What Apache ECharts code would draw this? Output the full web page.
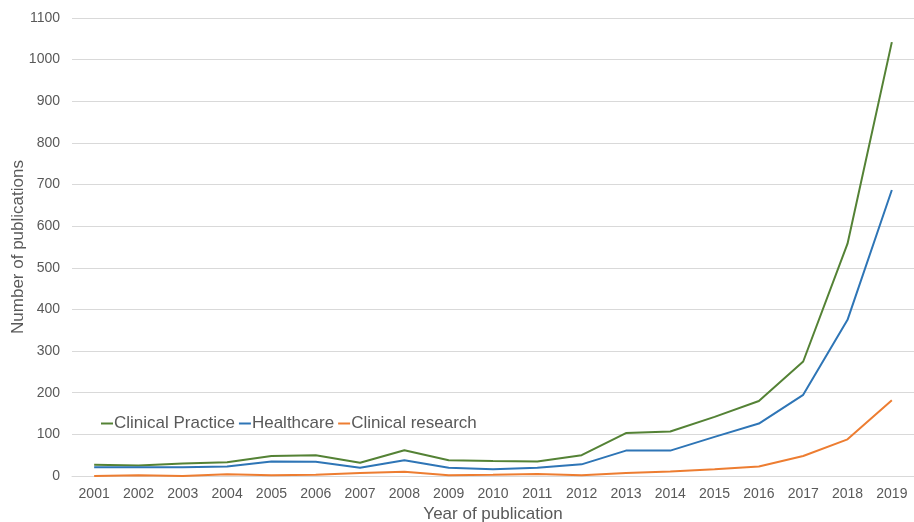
<!DOCTYPE html>
<html><head><meta charset="utf-8">
<script src="https://cdn.jsdelivr.net/npm/echarts@6/dist/echarts.min.js"></script>
<style>html,body{margin:0;padding:0;background:#fff}#c{width:914px;height:522px}</style>
</head><body><div id="c"></div>
<script>
const years = ['2001','2002','2003','2004','2005','2006','2007','2008','2009','2010','2011','2012','2013','2014','2015','2016','2017','2018','2019'];
const clinicalPractice = [27,25,30,33,48,50,32,62,38,36,35,50,103,107,142,180,275,558,1042];
const healthcare = [21,21,21,23,35,34,20,38,20,16,20,28,61,61,94,126,195,375,687];
const clinicalResearch = [0,2,0,4,2,3,7,10,2,3,5,2,7,11,16,23,48,88,182];
const font = 'Liberation Sans, Arial, sans-serif';
const chart = echarts.init(document.getElementById('c'));
chart.setOption({
  animation:false,
  textStyle:{fontFamily:font},
  grid:{left:72,right:0,top:18,bottom:46,outerBoundsMode:'none',containLabel:false},
  legend:{left:96,top:410,itemGap:4,itemWidth:12,itemHeight:2,icon:'rect',
    textStyle:{color:'#595959',fontSize:17,fontFamily:font,padding:[0,0,0,-4]},
    data:['Clinical Practice','Healthcare','Clinical research']},
  xAxis:{type:'category',data:years,boundaryGap:true,
    name:'Year of publication',nameLocation:'middle',nameGap:30,nameMoveOverlap:false,
    nameTextStyle:{color:'#595959',fontSize:17,fontFamily:font},
    axisLine:{lineStyle:{color:'#d9d9d9'}},axisTick:{show:false},
    axisLabel:{color:'#595959',fontSize:14,fontFamily:font,margin:11}},
  yAxis:{type:'value',min:0,max:1100,interval:100,
    name:'Number of publications',nameLocation:'middle',nameGap:45,nameMoveOverlap:false,
    nameTextStyle:{color:'#595959',fontSize:17,fontFamily:font},
    axisLine:{show:false},axisTick:{show:false},
    axisLabel:{color:'#595959',fontSize:14,fontFamily:font,margin:12,formatter:v=>String(v)},
    splitLine:{lineStyle:{color:'#d9d9d9'}}},
  series:[
    {name:'Clinical Practice',type:'line',data:clinicalPractice,symbol:'none',lineStyle:{color:'#548235',width:2},itemStyle:{color:'#548235'}},
    {name:'Healthcare',type:'line',data:healthcare,symbol:'none',lineStyle:{color:'#2e75b6',width:2},itemStyle:{color:'#2e75b6'}},
    {name:'Clinical research',type:'line',data:clinicalResearch,symbol:'none',lineStyle:{color:'#ed7d31',width:2},itemStyle:{color:'#ed7d31'}}
  ]
});
</script></body></html>
